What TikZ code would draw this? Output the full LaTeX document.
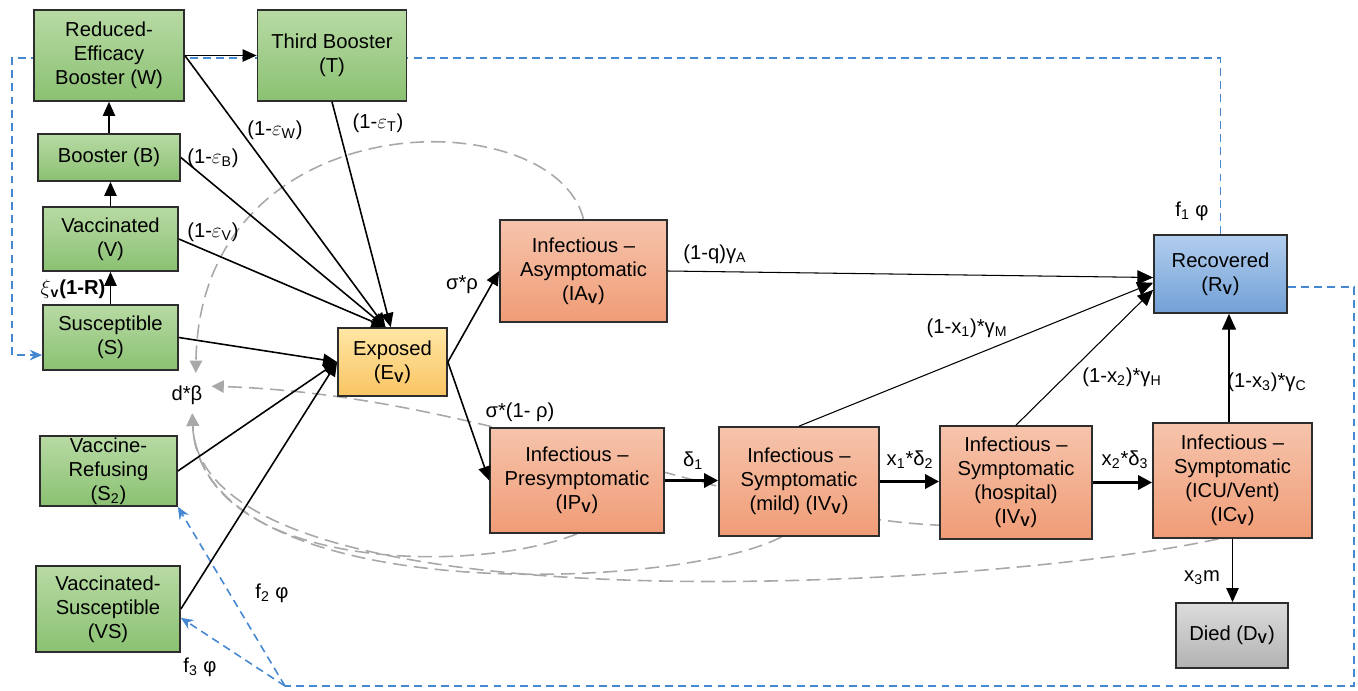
\documentclass[tikz,border=0pt]{standalone}
\usepackage{fontspec}
\setmainfont{Liberation Sans}
\usetikzlibrary{arrows.meta,backgrounds}
\definecolor{boxline}{RGB}{45,45,45}
\definecolor{greenT}{RGB}{184,218,164}
\definecolor{greenB}{RGB}{138,193,114}
\definecolor{redT}{RGB}{246,196,172}
\definecolor{redB}{RGB}{240,156,118}
\definecolor{yelT}{RGB}{255,230,165}
\definecolor{yelB}{RGB}{250,196,98}
\definecolor{bluT}{RGB}{178,206,238}
\definecolor{bluB}{RGB}{114,160,214}
\definecolor{greyT}{RGB}{220,220,220}
\definecolor{greyB}{RGB}{178,178,178}
\definecolor{loopblue}{RGB}{70,135,210}
\definecolor{feedgrey}{RGB}{168,168,168}
\tikzset{
  comp/.style={draw=boxline, line width=1pt, align=center, inner sep=0pt, font=\fontsize{11.5}{13.6}\selectfont},
  susc/.style={comp, top color=greenT, bottom color=greenB},
  inf/.style={comp, top color=redT, bottom color=redB},
  expo/.style={comp, top color=yelT, bottom color=yelB},
  reco/.style={comp, top color=bluT, bottom color=bluB},
  dead/.style={comp, top color=greyT, bottom color=greyB},
  rate/.style={font=\fontsize{11.5}{13.6}\selectfont, inner sep=1pt},
  flow/.style={line width=0.9pt, -{Triangle[length=8pt,width=7pt]}},
  bigflow/.style={line width=1.8pt, -{Triangle[length=8pt,width=8pt]}},
  thinflow/.style={line width=0.6pt, -{Triangle[length=9pt,width=8pt]}},
  recycle/.style={draw=loopblue, line width=0.9pt, dash pattern=on 4.5pt off 3pt},
  bluetip/.style={-{Stealth[length=7pt,width=6pt]}},
  feed/.style={color=feedgrey, line width=0.9pt, dash pattern=on 8pt off 4pt, -{Triangle[length=7pt,width=7pt]}}
}
\begin{document}
\begin{tikzpicture}[x=0.02cm,y=-0.02cm]
\useasboundingbox (0,0) rectangle (1358,690);
% compartments
\node[susc, minimum width=3cm, minimum height=1.82cm] (W) at (109,55.5) {Reduced-\\Efficacy\\Booster (W)};
\node[susc, minimum width=2.98cm, minimum height=1.82cm] (T) at (332,55.5) {Third Booster\\(T)};
\node[susc, minimum width=2.84cm, minimum height=0.94cm] (B) at (109,157.5) {Booster (B)};
\node[susc, minimum width=2.7cm, minimum height=1.28cm] (V) at (110.5,239) {Vaccinated\\(V)};
\node[susc, minimum width=2.7cm, minimum height=1.3cm] (S) at (110.5,337.5) {Susceptible\\(S)};
\node[susc, minimum width=2.74cm, minimum height=1.4cm] (S2) at (108.5,471) {Vaccine-\\Refusing\\(S\textsubscript{2})};
\node[susc, minimum width=2.88cm, minimum height=1.72cm] (VS) at (108,609) {Vaccinated-\\Susceptible\\(VS)};
\node[expo, minimum width=2.18cm, minimum height=1.36cm] (E) at (392.5,362) {Exposed\\(E\textsubscript{\textbf{V}})};
\node[inf, minimum width=3.34cm, minimum height=2.04cm] (IA) at (583.5,271) {Infectious –\\Asymptomatic\\(IA\textsubscript{\textbf{V}})};
\node[inf, minimum width=3.48cm, minimum height=2.1cm] (IP) at (577,480.5) {Infectious –\\Presymptomatic\\(IP\textsubscript{\textbf{V}})};
\node[inf, minimum width=3.2cm, minimum height=2.18cm] (IM) at (799,481.5) {Infectious –\\Symptomatic\\(mild) (IV\textsubscript{\textbf{V}})};
\node[inf, minimum width=3.04cm, minimum height=2.26cm] (IH) at (1016,482.5) {Infectious –\\Symptomatic\\(hospital)\\(IV\textsubscript{\textbf{V}})};
\node[inf, minimum width=3.18cm, minimum height=2.3cm] (IC) at (1232.5,480.5) {Infectious –\\Symptomatic\\(ICU/Vent)\\(IC\textsubscript{\textbf{V}})};
\node[reco, minimum width=2.66cm, minimum height=1.56cm] (R) at (1220.5,274) {Recovered\\(R\textsubscript{\textbf{V}})};
\node[dead, minimum width=2.24cm, minimum height=1.3cm] (D) at (1232,635.5) {Died (D\textsubscript{\textbf{V}})};
\node[rate, inner sep=5pt] (db) at (187,395) {d*β};
% rates
\node[rate] (rW) at (275,130) {(1-$\varepsilon$\textsubscript{W})};
\node[rate] (rT) at (378,123) {(1-$\varepsilon$\textsubscript{T})};
\node[rate] (rB) at (213,158) {(1-$\varepsilon$\textsubscript{B})};
\node[rate] (rV) at (213,232) {(1-$\varepsilon$\textsubscript{V})};
\node[rate] (rxi) at (73,289) {$\xi$\textsubscript{\textbf{v}}\textbf{(1-R)}};
\node[rate] (rsr) at (462,285) {σ*ρ};
\node[rate] (rs1r) at (520,412) {σ*(1- ρ)};
\node[rate] (rqA) at (715,254) {(1-q)γ\textsubscript{A}};
\node[rate] (rd1) at (693,461) {δ\textsubscript{1}};
\node[rate] (rd2) at (910,460) {x\textsubscript{1}*δ\textsubscript{2}};
\node[rate] (rd3) at (1125,460) {x\textsubscript{2}*δ\textsubscript{3}};
\node[rate] (rgM) at (967,328) {(1-x\textsubscript{1})*γ\textsubscript{M}};
\node[rate] (rgH) at (1122,377) {(1-x\textsubscript{2})*γ\textsubscript{H}};
\node[rate] (rgC) at (1267,382) {(1-x\textsubscript{3})*γ\textsubscript{C}};
\node[rate] (rm) at (1202,578) {x\textsubscript{3}m};
\node[rate] (rf1) at (1192,211) {f\textsubscript{1} φ};
\node[rate] (rf2) at (272,593) {f\textsubscript{2} φ};
\node[rate] (rf3) at (200,667) {f\textsubscript{3} φ};
% flows
\draw[flow] (S.north) -- (S.north |- V.south);
\draw[flow] (V.north) -- (V.north |- B.south);
\draw[flow] (B.north) -- (B.north |- W.south);
\draw[flow] (W.east) -- (T.west);
\coordinate (Etop) at ([xshift=-4pt]E.north);
\draw[flow] (W.east) -- (Etop);
\draw[flow] (B.east) -- (Etop);
\draw[flow] (V.east) -- (Etop);
\draw[flow] (T.south) -- ([xshift=-1pt]E.north);
\draw[flow] (S.east) -- (E.west);
\draw[flow] (S2.east) -- (E.west);
\draw[flow] (VS.east) -- (E.west);
\draw[flow] (E.east) -- (IA.west);
\draw[flow] (E.east) -- (IP.west);
\draw[thinflow] (IA.east) -- ([yshift=-2pt]R.west);
\draw[thinflow] (IM.north) -- ([yshift=-5pt]R.west);
\draw[thinflow] (IH.north) -- ([yshift=-9pt]R.west);
\draw[thinflow] ([xshift=-2pt]IC.north) -- ([xshift=-2pt]IC.north |- R.south);
\draw[bigflow] (IP.east) -- (IP.east -| IM.west);
\draw[bigflow] (IM.east) -- (IM.east -| IH.west);
\draw[bigflow] (IH.east) -- (IH.east -| IC.west);
\draw[flow] (IC.south) -- (IC.south |- D.north);
\begin{scope}[on background layer]
\coordinate (loopTL) at (12,58);
\coordinate (loopBR) at (1354,686);
\coordinate (loopB) at (285,686);
\draw[recycle, bluetip] (R.north) |- (loopTL) |- ([yshift=-10pt]S.west);
\draw[recycle] ([yshift=-7.4pt]R.east) -| (loopBR) -- (loopB);
\draw[recycle, bluetip] (loopB) -- (S2.south east);
\draw[recycle, bluetip] (loopB) -- ([yshift=-5pt]VS.east);
% infection feedback
\draw[feed] (IA.north) .. controls +(-30,-120) and +(4,-274) .. ([xshift=5pt,yshift=2pt]db.north);
\draw[feed] ([xshift=-29pt,yshift=8pt]IH.south) .. controls +(-215,0) and +(289,9) .. ([yshift=5pt]db.east);
\draw[feed] (IP.south) .. controls +(-107,42) and +(8,157) .. ([xshift=3pt]db.south);
\draw[feed] ([xshift=-10pt]IM.south) .. controls +(-101,54) and +(8,197) .. ([xshift=3pt]db.south);
\draw[feed] ([xshift=-8pt]IC.south) .. controls +(-218,48) and +(8,225) .. ([xshift=3pt]db.south);
\end{scope}
\end{tikzpicture}
\end{document}
